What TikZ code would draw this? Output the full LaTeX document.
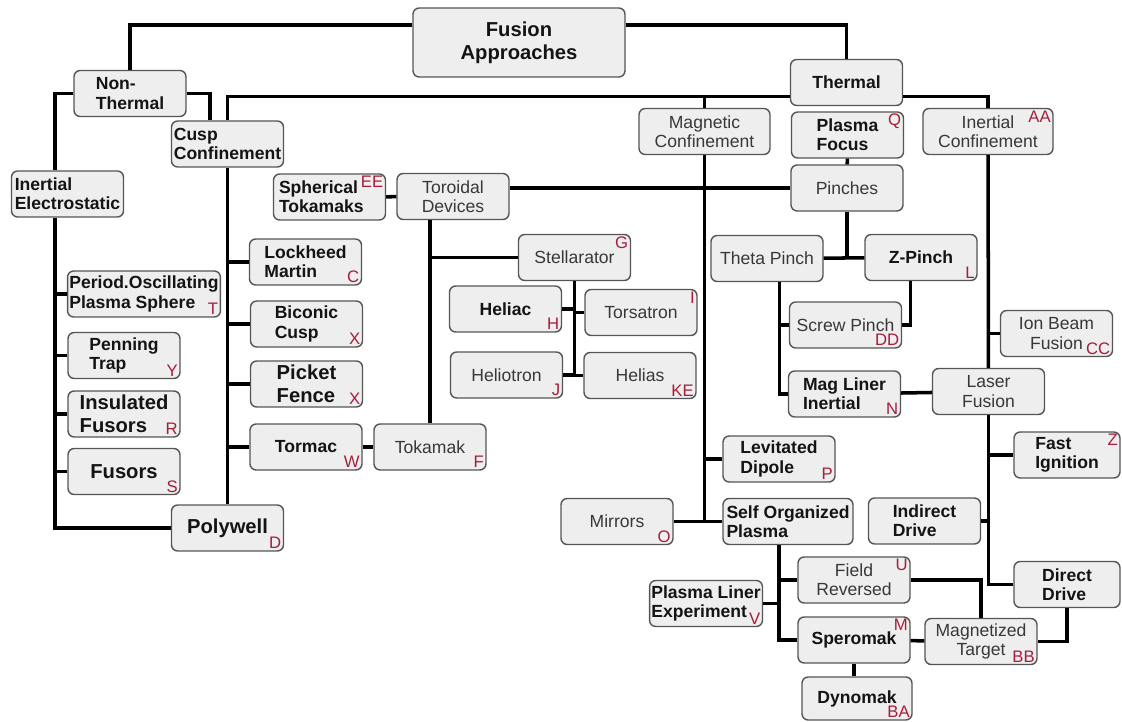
\documentclass[tikz,border=0pt]{standalone}
\usepackage{fontspec}
\setmainfont{Liberation Sans}
\usepackage{tikz}
\definecolor{BoxFill}{RGB}{238,238,238}
\definecolor{BoxLine}{RGB}{85,85,85}
\definecolor{TagRed}{RGB}{165,30,60}
\newcommand{\tagbr}[2]{\node[tagtxt,anchor=south east] (#1-tag) at (#1.south east) {#2};}
\newcommand{\tagtr}[2]{\node[tagtxt,anchor=north east] (#1-tag) at (#1.north east) {#2};}

\begin{document}
\begin{tikzpicture}[x=0.02cm,y=-0.02cm,
  box/.style={draw=BoxLine,fill=BoxFill,line width=0.8pt,rounded corners=3.5pt,
    minimum width=2.24cm,minimum height=0.92cm,inner sep=1pt,align=center,
    font=\fontsize{10}{11}\selectfont,text=black!78},
  bbox/.style={box,font=\fontsize{10}{11}\selectfont\bfseries,text=black!92},
  bigbox/.style={box,font=\fontsize{11.5}{13}\selectfont\bfseries,text=black!92},
  tagtxt/.style={font=\fontsize{9.5}{9.5}\selectfont,text=TagRed,inner sep=1.5pt},
  link/.style={line width=2pt}]
  \useasboundingbox (0,0) rectangle (1122,722);

  \node[bigbox,minimum width=4.24cm,minimum height=1.38cm] (fa) at (519,42.5) {Fusion\\Approaches};
  \node[bbox,align=left] (nth) at (130,93.5) {Non-\\Thermal};
  \node[bbox] (th) at (846.5,82.5) {Thermal};
  \node[bbox,align=left] (cc) at (227.5,144) {Cusp\\Confinement};
  \node[bbox,align=left] (ie) at (67.5,194) {Inertial\\Electrostatic};
  \node[box,minimum width=2.62cm] (mc) at (704.5,131.5) {Magnetic\\Confinement};
  \node[bbox,align=left] (pfo) at (847.5,135) {Plasma\\Focus};
  \node[box,minimum width=2.6cm] (ic) at (988,131.5) {Inertial\\Confinement};
  \node[bbox,align=left,text width=2.02cm,inner sep=3pt] (st) at (329.5,197) {Spherical\\Tokamaks};
  \node[box] (td) at (453,196.5) {Toroidal\\Devices};
  \node[box] (pi) at (847,188) {Pinches};
  \node[bbox,align=left] (lm) at (305.5,262) {Lockheed\\Martin};
  \node[box] (stl) at (574.5,257.5) {Stellarator};
  \node[box] (tp) at (767,258.5) {Theta Pinch};
  \node[bbox] (zp) at (921,257.5) {Z-Pinch};
  \node[bbox,align=left,minimum width=3.04cm] (pops) at (144,294) {Period.Oscillating\\Plasma Sphere};
  \node[bbox,align=left] (bc) at (306.5,324) {Biconic\\Cusp};
  \node[bbox] (hc) at (505.5,309) {Heliac};
  \node[box] (ts) at (641,312.5) {Torsatron};
  \node[box] (sp) at (845.5,325) {Screw Pinch};
  \node[box] (ib) at (1056.5,333.5) {Ion Beam\\Fusion};
  \node[bbox,align=left] (pt) at (124,355.5) {Penning\\Trap};
  \node[box] (hn) at (506.5,375) {Heliotron};
  \node[box] (hs) at (640,375.5) {Helias};
  \node[bigbox,align=left] (pfe) at (306.5,384) {Picket\\Fence};
  \node[bbox,align=left] (ml) at (844.5,394) {Mag Liner\\Inertial};
  \node[box] (lf) at (988.5,391.5) {Laser\\Fusion};
  \node[bigbox,align=left] (ifu) at (124,414) {Insulated\\Fusors};
  \node[bbox] (tm) at (306,447) {Tormac};
  \node[box] (tk) at (430,447) {Tokamak};
  \node[bbox,align=left,minimum width=2.12cm] (fi) at (1067,455) {Fast\\Ignition};
  \node[bbox,align=left] (ld) at (779,459) {Levitated\\Dipole};
  \node[bigbox] (fu) at (124,471.5) {Fusors};
  \node[bigbox] (pw) at (227.5,528) {Polywell};
  \node[box] (mi) at (617,521.5) {Mirrors};
  \node[bbox,align=left,minimum width=2.6cm] (sop) at (788,521.5) {Self Organized\\Plasma};
  \node[bbox,align=left] (id) at (924.5,521) {Indirect\\Drive};
  \node[bbox,align=left,minimum width=2.12cm] (dd) at (1067,584.5) {Direct\\Drive};
  \node[box] (fr) at (854,580) {Field\\Reversed};
  \node[bbox,align=left] (pl) at (706,603.5) {Plasma Liner\\Experiment};
  \node[bbox] (sm) at (854,640) {Speromak};
  \node[box] (mt) at (981,641.5) {Magnetized\\Target};
  \node[bbox,minimum width=2.2cm,minimum height=0.86cm] (dm) at (857,698.5) {Dynomak};

  \tagtr{pfo}{Q} \tagtr{ic}{AA} \tagtr{st}{EE} \tagtr{stl}{G} \tagtr{ts}{I}
  \tagtr{fi}{Z} \tagtr{fr}{U} \tagtr{sm}{M}
  \tagbr{lm}{C} \tagbr{zp}{L} \tagbr{pops}{T} \tagbr{bc}{X} \tagbr{hc}{H}
  \tagbr{sp}{DD} \tagbr{ib}{CC} \tagbr{pt}{Y} \tagbr{hn}{J} \tagbr{hs}{KE}
  \tagbr{pfe}{X} \tagbr{ml}{N} \tagbr{ifu}{R} \tagbr{tm}{W} \tagbr{tk}{F}
  \tagbr{ld}{P} \tagbr{fu}{S} \tagbr{pw}{D} \tagbr{mi}{O} \tagbr{pl}{V}
  \tagbr{mt}{BB} \tagbr{dm}{BA}

  \coordinate (spL) at ([xshift=-7pt]ie.north);
  \coordinate (thw) at ([yshift=-8pt]th.west);
  \coordinate (the) at ([yshift=-8pt]th.east);
  \coordinate (tpx) at ([xshift=7pt]tp.south);
  \coordinate (sopx) at ([xshift=-5pt]sop.south);

  \draw[link] ([yshift=10pt]fa.west) -| (nth.north);
  \draw[link] ([yshift=10pt]fa.east) -| (th.north);
  \draw[link] (nth.west) -| (ie.north -| spL);
  \draw[link] (ie.south -| spL) |- (pw.west);
  \foreach \n in {pops,pt,ifu,fu}
    \draw[link] (\n.west -| spL) -- (\n.west);
  \draw[link] (nth.east) -| ([xshift=-10pt]cc.north);
  \draw[link] (thw) -| (cc.north);
  \draw[link] (cc.south) -- (pw.north);
  \foreach \n in {lm,bc,pfe,tm}
    \draw[link] (\n.west -| cc.south) -- (\n.west);
  \draw[link] (tm) -- (tk);
  \draw[link] (st) -- (td);
  \draw[link] (td.east |- pi.west) -- (pi.west);
  \draw[link] (tk.north |- td.south) -- (tk.north);
  \draw[link] (stl.west -| tk.north) -- (stl.west);
  \draw[link] (stl.south) |- (hn.east);
  \draw[link] (hc.east) -- (hc.east -| stl.south);
  \foreach \n in {ts,hs}
    \draw[link] (\n.west -| stl.south) -- (\n.west);
  \draw[link] (mc.north) -- (mc.north |- thw);
  \draw[link] (mc.south) -- (mc.south |- mi.east);
  \draw[link] (mi) -- (sop);
  \draw[link] (ld.west -| mc.south) -- (ld.west);
  \draw[link] (pfo) -- (pi);
  \draw[link] (pi.south) -- (pi.south |- tp.east);
  \draw[link] (tp) -- (zp);
  \draw[link] ([xshift=-6pt]zp.south) |- (sp.east);
  \draw[link] (tpx) |- (ml.west);
  \draw[link] (sp.west -| tpx) -- (sp.west);
  \draw[link] (ml) -- (lf);
  \draw[link] (the) -| (ic.north);
  \draw[link] (ic) -- (lf);
  \draw[link] (ib.west -| ic.south) -- (ib.west);
  \draw[link] (lf.south) |- (dd.west);
  \draw[link] (fi.west -| lf.south) -- (fi.west);
  \draw[link] (id.east) -- (id.east -| lf.south);
  \draw[link] (dd.south) |- (mt.east);
  \draw[link] (fr.east) -| (mt.north);
  \draw[link] (sm) -- (mt);
  \draw[link] (sm.south) -- (sm.south |- dm.north);
  \draw[link] (sopx) |- (sm.west);
  \draw[link] (fr.west -| sopx) -- (fr.west);
  \draw[link] (pl.east) -- (pl.east -| sopx);
\end{tikzpicture}
\end{document}
